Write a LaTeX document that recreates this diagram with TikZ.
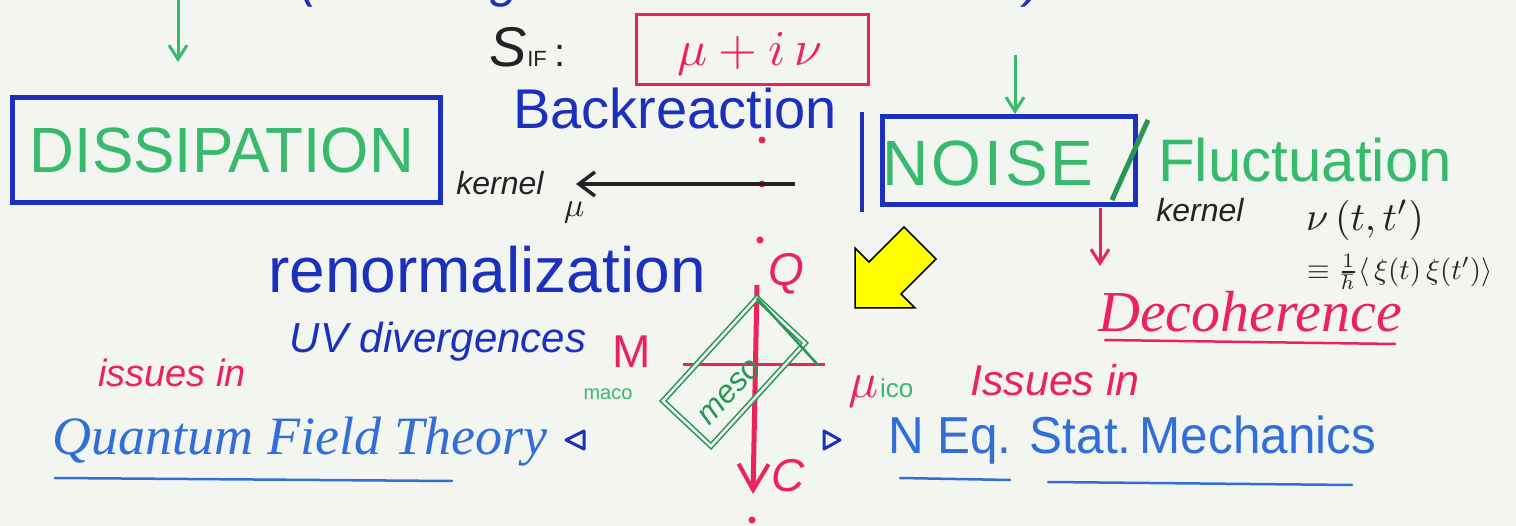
\documentclass[tikz,border=0pt]{standalone}
\usepackage{fontspec}
\setmainfont{Liberation Sans}
\newfontfamily\serfont{Liberation Serif}
\usetikzlibrary{arrows.meta}
\definecolor{bgcol}{RGB}{242,245,240}
\definecolor{mblue}{RGB}{28,48,190}
\definecolor{lblue}{RGB}{50,110,215}
\definecolor{mgreen}{RGB}{55,185,110}
\definecolor{dgreen}{RGB}{40,150,85}
\definecolor{mred}{RGB}{235,35,90}
\definecolor{ink}{RGB}{35,35,35}
\definecolor{yel}{RGB}{255,255,0}
\newcommand\fsz[1]{\fontsize{#1}{#1}\selectfont}
\tikzset{
  txt/.style={inner sep=0pt, outer sep=0pt},
  bluebox/.style={draw=mblue, line width=5pt, inner sep=0pt},
  garrow/.style={draw=mgreen, line width=3pt, -{Straight Barb[length=14pt,width=18pt,line width=3pt]}},
  rarrow/.style={draw=mred, line width=3pt, -{Straight Barb[length=14pt,width=18pt,line width=3pt]}},
  karrow/.style={draw=ink, line width=3.5pt, -{Straight Barb[length=16pt,width=24pt,line width=3.5pt]}},
  reddot/.style={fill=mred},
  uline/.style={line width=2.5pt, line cap=round},
}
\begin{document}
\begin{tikzpicture}[x=1pt,y=-1pt]
\useasboundingbox (0,0) rectangle (1516,526);
\fill[bgcol] (0,0) rectangle (1516,526);

% clipped heading at the very top (only its lowest edge shows)
\node[txt, anchor=base west, text=mblue] (head) at (300,-3) {\fsz{52}\itshape (coarse-grained effective action)};

% DISSIPATION
\node[bluebox, minimum width=428pt, minimum height=105pt] (dissbox) at (226,150) {};
\node[txt, text=mgreen, xscale=0.97] (diss) at (222,150) {\fsz{64}DISSIPATION};
\coordinate (g1s) at (178,-2);
\coordinate (g1e) at (178,62);
\draw[garrow] (g1s) -- (g1e);

% S_IF and red box
\node[txt, text=ink] (sif) at (528,47) {{\fsz{56}\itshape S}{\fsz{22}IF}\hspace{8pt}{\fsz{40}:}};
\node[draw=mred, line width=3pt, minimum width=232pt, minimum height=70pt] (sbox) at (752,50) {};
\node[txt, text=mred, scale=5] (muinu) at (750,54) {$\mu + i\,\nu$};

% Backreaction
\node[txt, text=mblue] (back) at (675,108) {\fsz{56}Backreaction};

% red dotted axis
\fill[reddot] (762,140) circle (3.5);
\fill[reddot] (762,184) circle (3.5);
\fill[reddot] (760,240) circle (3.5);
\fill[reddot] (752,520) circle (3.5);

% kernel mu (left)
\node[txt, text=ink] (kerL) at (500,183) {\fsz{32}\itshape kernel};
\node[txt, text=ink, scale=3.4] (muL) at (574,212) {$\mu$};
\coordinate (bks) at (795,184);
\coordinate (bke) at (576,184);
\draw[karrow] (bks) -- (bke);

% NOISE / Fluctuation
\coordinate (nl1) at (862,112);
\coordinate (nl2) at (862,212);
\draw[draw=mblue, line width=4pt] (nl1) -- (nl2);
\node[bluebox, minimum width=253pt, minimum height=88pt] (noisebox) at (1009,161) {};
\node[txt, text=mgreen] (noise) at (988,163) {\fsz{64}N\hspace{3pt}O\hspace{3pt}I\hspace{3pt}S\hspace{3pt}E};
\coordinate (sl1) at (1148,120);
\coordinate (sl2) at (1112,200);
\draw[draw=dgreen, line width=5pt] (sl1) -- (sl2);
\node[txt, text=mgreen] (fluct) at (1305,160) {\fsz{60}Fluctuation};
\coordinate (g2s) at (1015,55);
\coordinate (g2e) at (1015,114);
\draw[garrow] (g2s) -- (g2e);

% kernel nu (right)
\node[txt, text=ink] (kerR) at (1200,210) {\fsz{32}\itshape kernel};
\node[txt, text=ink, scale=4.0] (nuR) at (1365,220) {$\nu\,(t,t')$};
\node[txt, text=ink, scale=2.9] (corr) at (1400,272) {$\equiv\frac{1}{\hbar}\langle\,\xi(t)\,\xi(t')\rangle$};

% Decoherence
\node[txt, text=mred] (deco) at (1250,312) {\fsz{58}\serfont\itshape Decoherence};
\coordinate (du1) at (1105,340);
\coordinate (du2) at (1395,344);
\draw[mred, uline] (du1) -- (du2);
\coordinate (r1s) at (1100,208);
\coordinate (r1e) at (1100,266);
\draw[rarrow] (r1s) -- (r1e);

% yellow arrow
\filldraw[fill=yel, draw=black, line width=1.5pt, line join=miter]
  (855,308) -- (855,248) -- (869,262) -- (904,227) -- (936,259) -- (901,294) -- (915,308) -- cycle;

% renormalization etc.
\node[txt, text=mblue] (renorm) at (487,270) {\fsz{64}renormalization};
\node[txt, text=mblue] (uv) at (438,342) {\fsz{42}\itshape UV divergences};
\node[txt, text=mred] (issL) at (172,373) {\fsz{38}\itshape issues in};
\node[txt, text=lblue] (qft) at (300,442) {\fsz{54}\serfont\itshape Quantum Field Theory};
\coordinate (qu1) at (55,478);
\coordinate (qu2) at (452,481);
\draw[lblue, uline] (qu1) -- (qu2);

% central cross
\node[txt, text=mred] (Q) at (786,274) {\fsz{46}\itshape Q};
\node[txt, text=mred] (M) at (632,352) {\fsz{46}M};
\node[txt, text=mgreen] (maco) at (608,394) {\fsz{20}maco};
\node[txt, text=mred] (C) at (788,476) {\fsz{46}\itshape C};
\node[txt, text=mred, scale=5] (mu) at (864,392) {$\mu$};
\node[txt, text=mgreen, anchor=west] (ico) at (880,388) {\fsz{26}ico};
\coordinate (hl1) at (683,365);
\coordinate (hl2) at (825,365);
\draw[mred, line width=3pt] (hl1) -- (hl2);
\coordinate (vs) at (757,285);
\coordinate (ve) at (753,494);
\draw[mred, line width=5pt, -{Straight Barb[length=26pt,width=30pt,line width=4pt]}] (vs) -- (ve);

% meso rectangle and triangle
\coordinate (mT) at (757,298);
\coordinate (mR) at (805,343);
\coordinate (mB) at (711,446);
\coordinate (mL) at (663,401);
\draw[dgreen, line width=1.6pt, double=bgcol, double distance=2.5pt] (mT) -- (mR) -- (mB) -- (mL) -- cycle;
\coordinate (tR) at (818,365);
\draw[dgreen, line width=2.5pt] (mT) -- (tR);
\node[txt, text=dgreen, rotate=47] (meso) at (730,392) {\fsz{32}\itshape meso};

% blue triangles
\draw[mblue, line width=3pt, line join=round] (566,440) -- (584,431) -- (584,449) -- cycle;
\draw[mblue, line width=3pt, line join=round] (824,431) -- (840,440) -- (824,449) -- cycle;

% right issues
\node[txt, text=mred] (issR) at (1055,380) {\fsz{43}\itshape Issues in};
\node[txt, text=lblue, xscale=0.95] (neq) at (1132,440) {\fsz{52}N Eq. Stat.\,Mechanics};
\coordinate (nu1) at (900,478);
\coordinate (nu2) at (1010,480);
\coordinate (nu3) at (1048,482);
\coordinate (nu4) at (1352,485);
\draw[lblue, uline] (nu1) -- (nu2);
\draw[lblue, uline] (nu3) -- (nu4);
\end{tikzpicture}
\end{document}
